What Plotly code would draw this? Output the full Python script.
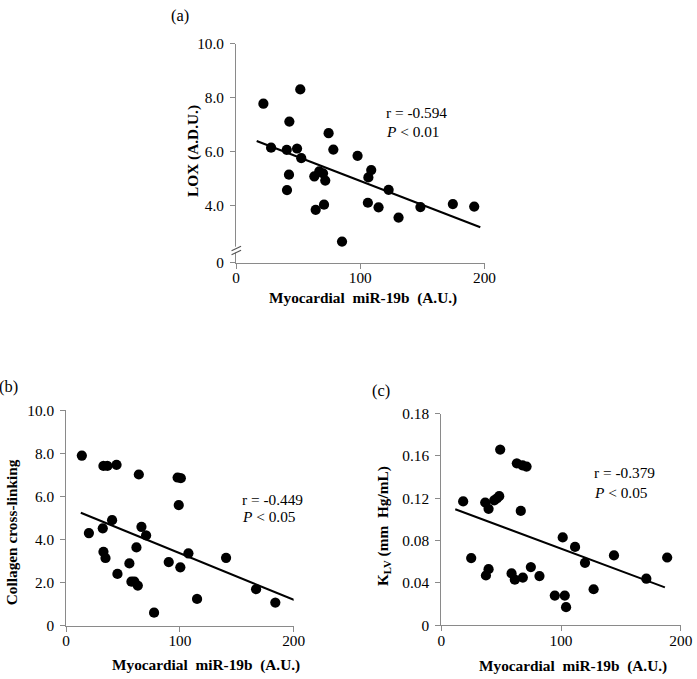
import plotly.graph_objects as go

W, H = 697, 679
FONT = "Liberation Serif, Times New Roman, serif"

# ---------------- data ----------------
# (a) LOX vs myocardial miR-19b
a_x = [22.0, 51.7, 42.9, 74.5, 28.2, 40.8, 49.1, 78.3, 52.5, 97.8, 42.6, 41.0, 63.0, 67.0,
       70.0, 71.8, 64.1, 70.8, 85.3, 108.8, 106.5, 106.1, 114.7, 122.8, 130.8, 148.4, 174.5, 191.7]
a_y = [7.78, 8.31, 7.12, 6.69, 6.15, 6.07, 6.12, 6.08, 5.76, 5.85, 5.15, 4.58, 5.09, 5.27,
       5.20, 4.93, 3.85, 4.04, 2.67, 5.32, 5.05, 4.11, 3.94, 4.59, 3.56, 3.95, 4.06, 3.97]
a_fit_x = [16.6, 196.6]
a_fit_y = [6.40, 3.20]
a_ticks = [1.89, 4.0, 6.0, 8.0, 10.0]
a_ticktext = ["0", "4.0", "6.0", "8.0", "10.0"]

# (b) Collagen cross-linking vs myocardial miR-19b
b_x = [13.8, 32.8, 36.3, 44.3, 63.9, 98.0, 100.8, 99.0, 40.4, 20.0, 32.2, 66.2, 70.3, 61.8,
       32.8, 34.6, 55.6, 45.1, 57.4, 60.0, 63.0, 77.3, 90.2, 100.4, 107.5, 140.6, 115.1, 167.0, 183.9]
b_y = [7.90, 7.42, 7.42, 7.47, 7.02, 6.88, 6.85, 5.60, 4.90, 4.30, 4.52, 4.59, 4.19, 3.63,
       3.43, 3.14, 2.89, 2.40, 2.04, 2.04, 1.86, 0.60, 2.95, 2.71, 3.36, 3.15, 1.24, 1.69, 1.07]
b_fit_x = [12.9, 207.4]
b_fit_y = [5.24, 1.04]
b_ticks = [0, 2, 4, 6, 8, 10]
b_ticktext = ["0", "2.0", "4.0", "6.0", "8.0", "10.0"]

# (c) K_LV vs myocardial miR-19b
c_x = [49.2, 63.1, 67.8, 71.2, 18.3, 36.7, 39.5, 44.2, 46.5, 48.4, 66.4, 101.4, 25.0, 39.5, 37.3,
       58.7, 61.4, 68.1, 74.8, 82.0, 94.8, 103.1, 104.2, 111.7, 120.0, 144.2, 127.2, 188.6, 171.2]
c_y = [0.166, 0.153, 0.151, 0.150, 0.117, 0.116, 0.110, 0.118, 0.120, 0.122, 0.108, 0.083, 0.0635,
       0.053, 0.047, 0.049, 0.043, 0.045, 0.055, 0.0465, 0.028, 0.028, 0.017, 0.074, 0.059, 0.066,
       0.034, 0.064, 0.044]
c_fit_x = [11.7, 186.7]
c_fit_y = [0.1097, 0.0358]
c_ticks = [0, 0.04, 0.08, 0.12, 0.16, 0.20]
c_ticktext = ["0", "0.04", "0.08", "0.12", "0.16", "0.18"]

x_ticks = [0, 100, 200]
x_ticktext = ["0", "100", "200"]

# ---------------- helpers ----------------
# the captured page appears padded by ~8px and scaled to the window; compensate
SX = W / (W + 16.0)
SY = H / (H + 16.0)
FS = 1.0 / SX  # size compensation

def px_x(p):
    return (p / SX - 8) / W

def px_y(p):
    return 1 - (p / SY - 8) / H

fig = go.Figure()

panels = [
    (a_x, a_y, a_fit_x, a_fit_y, "x", "y", (240, 488.6), (42.7, 262), [1.89, 10.0], a_ticks, a_ticktext),
    (b_x, b_y, b_fit_x, b_fit_y, "x2", "y2", (70, 297.6), (410, 625.7), [0, 10.0], b_ticks, b_ticktext),
    (c_x, c_y, c_fit_x, c_fit_y, "x3", "y3", (445.3, 685), (413.3, 625.3), [0, 0.20], c_ticks, c_ticktext),
]

axis_color = "#8a8a8a"
tickfont = dict(family=FONT, size=15 * FS, color="black")

for i, (xs, ys, fx, fy, xa, ya, xd, yd, yr, yt, ytt) in enumerate(panels):
    fig.add_trace(go.Scatter(x=xs, y=ys, mode="markers", xaxis=xa, yaxis=ya,
                             marker=dict(color="black", size=10 * FS), showlegend=False,
                             hoverinfo="skip"))
    fig.add_trace(go.Scatter(x=fx, y=fy, mode="lines", xaxis=xa, yaxis=ya,
                             line=dict(color="black", width=2 * FS), showlegend=False,
                             hoverinfo="skip"))
    suffix = "" if i == 0 else str(i + 1)
    fig.layout["xaxis" + suffix] = dict(
        domain=[px_x(xd[0]), px_x(xd[1])], range=[0, 200], anchor=ya,
        tickmode="array", tickvals=x_ticks, ticktext=x_ticktext,
        showgrid=False, zeroline=False, showline=True, linecolor=axis_color, linewidth=1,
        ticks="outside", ticklen=5, tickcolor=axis_color, tickfont=tickfont,
        ticklabelstandoff=-4,
    )
    fig.layout["yaxis" + suffix] = dict(
        domain=[px_y(yd[1]), px_y(yd[0])], range=yr, anchor=xa,
        tickmode="array", tickvals=yt, ticktext=ytt,
        showgrid=False, zeroline=False, showline=True, linecolor=axis_color, linewidth=1,
        ticks="outside", ticklen=5, tickcolor=axis_color, tickfont=tickfont,
        ticklabelstandoff=3,
    )

annots = []

def ptext(text, x, y, size=15, angle=0, bold=False):
    t = f"<b>{text}</b>" if bold else text
    annots.append(dict(text=t, x=px_x(x), y=px_y(y), xref="paper", yref="paper",
                       showarrow=False, textangle=angle, xanchor="center", yanchor="middle",
                       font=dict(family=FONT, size=size * FS, color="black")))

# panel labels
ptext("(a)", 184, 14, size=16)
ptext("(b)", 12, 386, size=16)
ptext("(c)", 385, 390, size=16)

# axis titles
xt = "Myocardial  miR-19b  (A.U.)"
ptext(xt, 367, 297, bold=True)
ptext(xt, 210, 665, bold=True)
ptext(xt, 577, 666, bold=True)
ptext("LOX (A.D.U.)", 197, 150, angle=-90, bold=True)
ptext("Collagen cross-linking", 15, 532, angle=-90, bold=True)
ptext("K<sub>LV</sub> (mm  Hg/mL)", 387, 526, angle=-90, bold=True)

# statistics text (data coordinates)
stats = [
    ("x", "y", 119, 7.45, 6.75, "r = -0.594", "<i>P</i> < 0.01"),
    ("x2", "y2", 153, 5.86, 5.09, "r = -0.449", "<i>P</i> < 0.05"),
    ("x3", "y3", 126, 0.1443, 0.1255, "r = -0.379", "<i>P</i> < 0.05"),
]
for xa, ya, x0, y1, y2, t1, t2 in stats:
    for yy, tt in ((y1, t1), (y2, t2)):
        annots.append(dict(text=tt, x=x0, y=yy, xref=xa, yref=ya, showarrow=False,
                           xanchor="left", yanchor="middle",
                           font=dict(family=FONT, size=15 * FS, color="black")))

# axis break marks on panel (a) y-axis
shapes = [
    dict(type="rect", xref="paper", yref="paper", x0=px_x(238), x1=px_x(242),
         y0=px_y(252), y1=px_y(246), fillcolor="white", line=dict(width=0)),
    dict(type="line", xref="paper", yref="paper", x0=px_x(235.5), y0=px_y(250),
         x1=px_x(245), y1=px_y(245.5), line=dict(color="#555", width=1.2)),
    dict(type="line", xref="paper", yref="paper", x0=px_x(235.5), y0=px_y(254),
         x1=px_x(245), y1=px_y(249.5), line=dict(color="#555", width=1.2)),
]

fig.update_layout(
    width=W, height=H, autosize=False, margin=dict(l=0, r=0, t=0, b=0),
    paper_bgcolor="white", plot_bgcolor="white",
    annotations=annots, shapes=shapes, showlegend=False,
)

post = (
    "document.documentElement.style.margin='0';"
    "document.body.style.margin='0';document.body.style.padding='0';"
    "document.body.style.overflow='hidden';"
)

fig.write_html("out.html", config={"displayModeBar": False}, post_script=post)
